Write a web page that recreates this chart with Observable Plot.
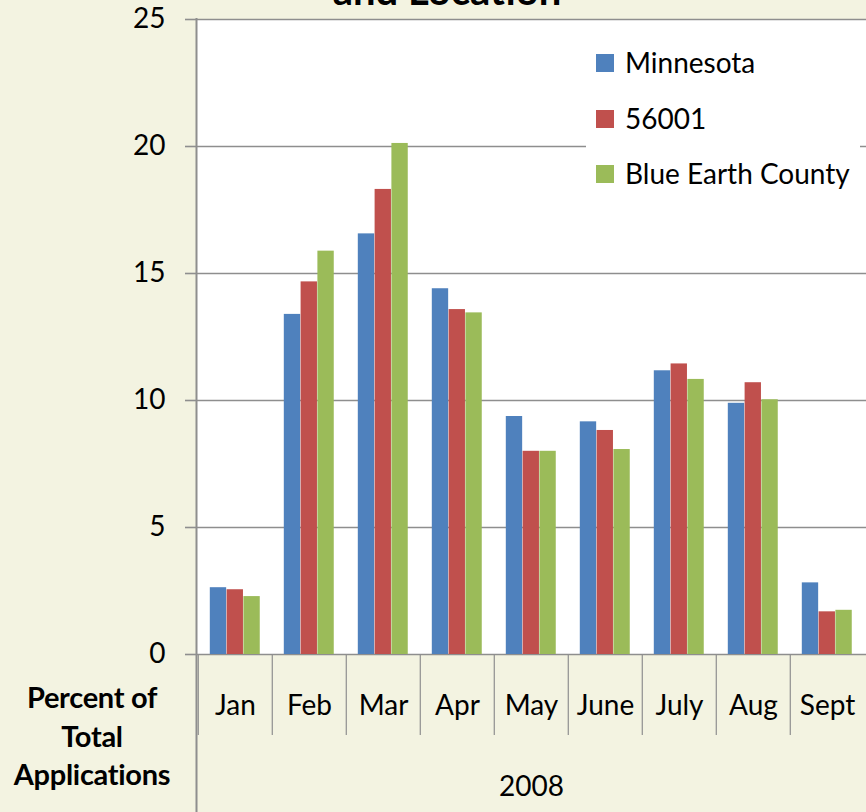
<!DOCTYPE html>
<html>
<head>
<meta charset="utf-8">
<script src="https://cdn.jsdelivr.net/npm/d3@7"></script>
<script src="https://cdn.jsdelivr.net/npm/@observablehq/plot@0.6"></script>
<style>
  html, body { margin: 0; padding: 0; background: #f3f3e1; }
  #wrap { position: relative; width: 866px; height: 812px; overflow: hidden; font-family: Lato, "Open Sans", sans-serif; }
  #title { position: absolute; left: 0; width: 894px; text-align: center; top: -30px; font-weight: bold; font-size: 40px; line-height: 40px; color: #000; }
  #legend { position: absolute; left: 586px; top: 34px; width: 274px; height: 166px; background: #fff; }
  .li { position: absolute; left: 10px; font-size: 28px; line-height: 28px; color: #000; white-space: nowrap; }
  .li span { display: inline-block; width: 18px; height: 18px; margin-right: 11px; vertical-align: 1px; }
  #ylab { position: absolute; left: 0; width: 184px; top: 678px; text-align: center; font-weight: bold; font-size: 29px; line-height: 38.5px; color: #000; letter-spacing: -0.3px; }
</style>
</head>
<body>
<div id="wrap">
  <div id="chart"></div>
  <div id="title">and Location</div>
  <div id="legend"></div>
  <div id="ylab">Percent of<br>Total<br>Applications</div>
</div>
<script>
const months = ["Jan", "Feb", "Mar", "Apr", "May", "June", "July", "Aug", "Sept"];
const seriesNames = ["Minnesota", "56001", "Blue Earth County"];
const seriesColors = ["#4f81bd", "#c0504d", "#9bbb59"];
const minnesota = [2.63, 13.39, 16.56, 14.40, 9.37, 9.16, 11.17, 9.89, 2.82];
const zip56001 = [2.55, 14.67, 18.31, 13.58, 8.00, 8.82, 11.44, 10.70, 1.68];
const blueEarth = [2.28, 15.88, 20.12, 13.45, 8.00, 8.07, 10.83, 10.03, 1.74];
const yTicks = [0, 5, 10, 15, 20, 25];
const yearLabel = "2008";

const seriesValues = [minnesota, zip56001, blueEarth];
const W = 866, H = 812;
const mL = 196, mR = 0, mT = 19, mB = 158;
const bw = (W - mL - mR) / months.length;
const barW = 16.8, groupOff = 11.8;

const barMarks = seriesValues.map((vals, i) => {
  const data = months.map((m, j) => ({month: m, value: vals[j]}));
  const left = groupOff + i * barW;
  return Plot.barY(data, {
    x: "month", y: "value", fill: seriesColors[i],
    insetLeft: left, insetRight: bw - left - barW
  });
});

const plot = Plot.plot({
  width: W, height: H,
  marginLeft: mL, marginRight: mR, marginTop: mT, marginBottom: mB,
  style: {background: "#f3f3e1", fontFamily: "Lato, 'Open Sans', sans-serif", color: "#000"},
  x: {domain: months, padding: 0, label: null},
  y: {domain: [0, 25], label: null},
  marks: [
    Plot.frame({fill: "white", stroke: null}),
    Plot.ruleY(yTicks, {stroke: "#8e8e8e", strokeWidth: 1.6}),
    ...barMarks,
    Plot.axisY(yTicks, {tickSize: 11, tickPadding: 20, fontSize: 28, stroke: "#8e8e8e", strokeWidth: 1.6, fill: "#000", label: null}),
    Plot.axisX({tickSize: 81, text: null, dx: -bw / 2, stroke: "#8e8e8e", strokeWidth: 1.2, label: null}),
    Plot.axisX({tickSize: 0, tickPadding: 41, fontSize: 28, fill: "#000", label: null}),
    Plot.text([yearLabel], {frameAnchor: "bottom", dy: 133, fontSize: 28, fill: "#000", lineAnchor: "middle"})
  ]
});
document.getElementById("chart").appendChild(plot);

// left axis line spanning plot and category box
const xs = plot.scale("x");
const ys = plot.scale("y");
d3.select(plot).append("line")
  .attr("x1", xs.range[0] + 0.5).attr("x2", xs.range[0] + 0.5)
  .attr("y1", ys.apply(25) - 1).attr("y2", H)
  .attr("stroke", "#8e8e8e").attr("stroke-width", 2);

// legend
const legend = document.getElementById("legend");
seriesNames.forEach((name, i) => {
  const d = document.createElement("div");
  d.className = "li";
  d.style.top = (14 + i * 55.5) + "px";
  d.innerHTML = `<span style="background:${seriesColors[i]}"></span>${name}`;
  legend.appendChild(d);
});
</script>
</body>
</html>
